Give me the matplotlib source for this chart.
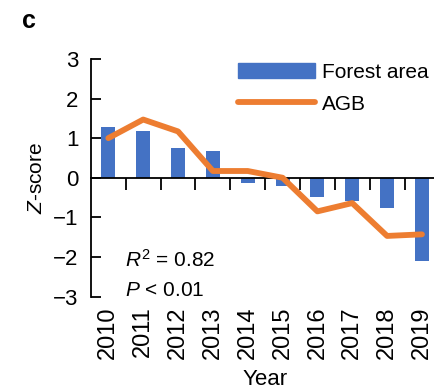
import matplotlib
matplotlib.use("Agg")
import matplotlib.pyplot as plt
from matplotlib.patches import Rectangle
from matplotlib.lines import Line2D
import numpy as np

# Z-scores of forest area and above-ground biomass (AGB), 2010-2019
years = ["2010", "2011", "2012", "2013", "2014", "2015", "2016", "2017", "2018", "2019"]
forest_area = [1.28, 1.17, 0.76, 0.68, -0.14, -0.20, -0.48, -0.60, -0.77, -2.10]
agb = [1.00, 1.47, 1.17, 0.17, 0.17, 0.00, -0.85, -0.64, -1.47, -1.43]
y_ticks = [-3, -2, -1, 0, 1, 2, 3]

BLUE = "#4472C4"
ORANGE = "#ED7D31"
FS = 15

plt.rcParams["font.family"] = ["Liberation Sans", "DejaVu Sans"]
plt.rcParams["mathtext.fontset"] = "custom"
plt.rcParams["mathtext.rm"] = "Liberation Sans"
plt.rcParams["mathtext.it"] = "Liberation Sans:italic"

fig = plt.figure(figsize=(4.35, 3.92), dpi=100)
ax = fig.add_axes([0.209, 0.2436, 0.801, 0.606])

x = np.arange(len(years))
ax.bar(x, forest_area, width=0.4, color=BLUE, zorder=2)
ax.plot(x, agb, color=ORANGE, lw=4.2, solid_joinstyle="round",
        solid_capstyle="round", zorder=4, clip_on=False)

ax.set_xlim(-0.5, len(years) - 0.5)
ax.set_ylim(-3, 3)

# y axis: inward ticks, no frame elsewhere
for side in ("top", "right", "bottom"):
    ax.spines[side].set_visible(False)
ax.spines["left"].set_linewidth(1.3)
ax.set_yticks(y_ticks)
ax.tick_params(axis="y", direction="in", length=7, width=1.3,
               labelsize=16, pad=9)

# year labels along the bottom, no marks
ax.set_xticks(x)
ax.set_xticklabels(years, rotation=90, fontsize=17)
ax.tick_params(axis="x", length=0, pad=7)

# zero line with marks between the years
zero_axis = ax.secondary_xaxis(0, transform=ax.transData)
zero_axis.set_xticks(x[:-1] + 0.5)
zero_axis.set_xticklabels([])
zero_axis.tick_params(direction="out", length=8.5, width=1.3)
zero_axis.spines["bottom"].set_linewidth(1.3)
zero_axis.set_zorder(3)

ax.set_ylabel("$Z$-score", fontsize=FS)
ax.yaxis.set_label_coords(-0.13, 0.5)
ax.set_xlabel("Year", fontsize=16)
ax.xaxis.set_label_coords(0.5, -0.305)

ax.text(0.0976, 0.154, "$R^2$ = 0.82", transform=ax.transAxes,
        fontsize=FS, va="center", ha="left")
ax.text(0.0976, 0.027, "$P$ < 0.01", transform=ax.transAxes,
        fontsize=FS, va="center", ha="left")

handles = [Rectangle((0, 0), 1, 1, color=BLUE),
           Line2D([], [], color=ORANGE, lw=4.2, solid_capstyle="round")]
fig.legend(handles, ["Forest area", "AGB"], loc="upper left",
           bbox_to_anchor=(238 / 435, 1 - 63 / 392), frameon=False,
           fontsize=FS, handlelength=3.7, handletextpad=0.33,
           labelspacing=0.6, borderpad=0, borderaxespad=0)

fig.text(22 / 435, 1 - 21 / 392, "c", fontsize=18, fontweight="bold",
         va="center", ha="left")

fig.savefig("out.png", dpi=100)
